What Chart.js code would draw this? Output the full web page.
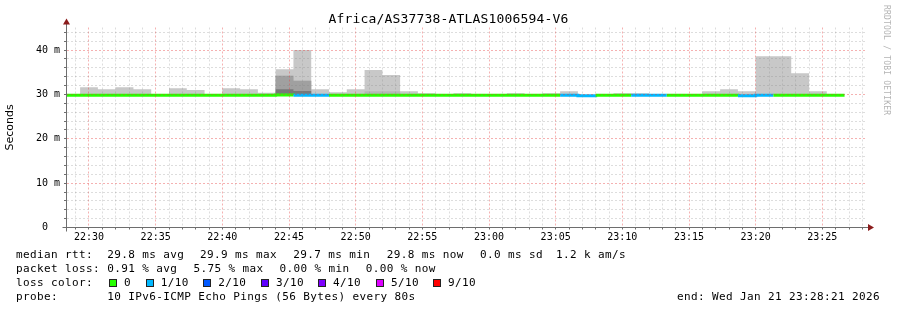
<!DOCTYPE html>
<html>
<head>
<meta charset="utf-8">
<script src="https://cdn.jsdelivr.net/npm/chart.js@4.4.1/dist/chart.umd.min.js"></script>
<style>
  body { margin: 0; background: #fff; }
  #wrap { position: relative; width: 897px; height: 310px; overflow: hidden; }
  #c { position: absolute; left: 0; top: 0; }
  .t { position: absolute; font-family: "DejaVu Sans Mono", monospace; white-space: pre; color: #000; }
  #title { left: 0; width: 897px; top: 11px; text-align: center; font-size: 13px; letter-spacing: 0.17px; line-height: 16px; }
  .leg { font-size: 11px; letter-spacing: 0.38px; line-height: 14px; }
  .box { position: absolute; width: 6px; height: 6px; border: 1px solid #222; }
  #mark { left: 882px; top: 5px; font-size: 8px; letter-spacing: 0.2px; color: #b4b4b4; writing-mode: vertical-rl; line-height: 9px; }
</style>
</head>
<body>
<div id="wrap">
  <canvas id="c" width="897" height="310"></canvas>
  <div class="t" id="title">Africa/AS37738-ATLAS1006594-V6</div>
  <div class="t" id="mark">RRDTOOL / TOBI OETIKER</div>
  <div id="legend"></div>
</div>
<script>
// 80 s steps (start time of each step), last entry is the end of the last step
const stepTimes = [
  '22:28:00','22:29:20','22:30:40','22:32:00','22:33:20','22:34:40','22:36:00','22:37:20','22:38:40',
  '22:40:00','22:41:20','22:42:40','22:44:00','22:45:20','22:46:40','22:48:00','22:49:20','22:50:40',
  '22:52:00','22:53:20','22:54:40','22:56:00','22:57:20','22:58:40','23:00:00','23:01:20','23:02:40',
  '23:04:00','23:05:20','23:06:40','23:08:00','23:09:20','23:10:40','23:12:00','23:13:20','23:14:40',
  '23:16:00','23:17:20','23:18:40','23:20:00','23:21:20','23:22:40','23:24:00','23:25:20'
];
const stepEnd = '23:26:40';
const viewStart = '22:28:21';
const viewEnd = '23:28:21';

// median rtt (ms) per step
const medianRtt = [
  29.8, 29.8, 29.8, 29.8, 29.8, 29.8, 29.8, 29.8, 29.8, 29.8, 29.8,
  29.8, 29.9, 29.8, 29.8, 29.8, 29.8, 29.8, 29.8, 29.8, 29.8, 29.8,
  29.8, 29.8, 29.8, 29.8, 29.8, 29.8, 29.8, 29.7, 29.8, 29.8, 29.8,
  29.8, 29.8, 29.8, 29.8, 29.8, 29.7, 29.8, 29.8, 29.8, 29.8, 29.8
];
// lost pings out of 10 per step
const lossCount = [
  0, 0, 0, 0, 0, 0, 0, 0, 0, 0, 0,
  0, 0, 1, 1, 0, 0, 0, 0, 0, 0, 0,
  0, 0, 0, 0, 0, 0, 1, 1, 0, 0, 1,
  1, 0, 0, 0, 0, 1, 1, 0, 0, 0, 0
];
// smoke: top of each shade band (ms), lightest first
const smokeMax = [
  29.8, 31.65, 31.2, 31.65, 31.2, 29.8, 31.4, 31.0, 29.8, 31.4, 31.2,
  30.4, 35.7, 40.0, 31.2, 30.5, 31.2, 35.5, 34.4, 30.7, 30.3, 29.8,
  30.3, 29.8, 29.8, 30.3, 29.8, 30.3, 30.7, 29.8, 29.8, 30.3, 30.3,
  29.8, 29.8, 29.8, 30.7, 31.2, 30.7, 38.6, 38.6, 34.8, 30.7, 29.8
];
const smokeUpper = [
  29.8, 29.8, 29.8, 29.8, 29.8, 29.8, 29.8, 29.8, 29.8, 29.8, 29.8,
  29.8, 34.2, 33.1, 29.8, 29.8, 29.8, 30.7, 30.7, 29.8, 29.8, 29.8,
  29.8, 29.8, 29.8, 29.8, 29.8, 29.8, 29.8, 29.8, 29.8, 29.8, 29.8,
  29.8, 29.8, 29.8, 29.8, 29.8, 29.8, 29.8, 29.8, 29.8, 29.8, 29.8
];
const smokeMid = [
  29.8, 29.8, 29.8, 29.8, 29.8, 29.8, 29.8, 29.8, 29.8, 29.8, 29.8,
  29.8, 34.2, 33.1, 29.8, 29.8, 29.8, 29.8, 29.8, 29.8, 29.8, 29.8,
  29.8, 29.8, 29.8, 29.8, 29.8, 29.8, 29.8, 29.8, 29.8, 29.8, 29.8,
  29.8, 29.8, 29.8, 29.8, 29.8, 29.8, 29.8, 29.8, 29.8, 29.8, 29.8
];
const smokeCore = [
  29.8, 29.8, 29.8, 29.8, 29.8, 29.8, 29.8, 29.8, 29.8, 29.8, 29.8,
  29.8, 31.2, 30.8, 29.8, 29.8, 29.8, 29.8, 29.8, 29.8, 29.8, 29.8,
  29.8, 29.8, 29.8, 29.8, 29.8, 29.8, 29.8, 29.8, 29.8, 29.8, 29.8,
  29.8, 29.8, 29.8, 29.8, 29.8, 29.8, 29.8, 29.8, 29.8, 29.8, 29.8
];

const xTickLabels = ['22:30','22:35','22:40','22:45','22:50','22:55','23:00','23:05','23:10','23:15','23:20','23:25'];
const yTickValues = [0, 10, 20, 30, 40];
const yTickLabels = ['0', '10 m', '20 m', '30 m', '40 m'];
const yMax = 45.1;

const lossLabels = ['0', '1/10', '2/10', '3/10', '4/10', '5/10', '9/10'];
const lossColors = ['#26ff00', '#00b8ff', '#0059ff', '#5e00ff', '#7e00ff', '#dd00ff', '#ff0000'];
// which legend colour is used for n lost pings
const lossColorFor = n => n === 0 ? lossColors[0] : n <= 5 ? lossColors[n] : lossColors[6];

// minutes after 22:00
function toMin(s) {
  const p = s.split(':').map(Number);
  return (p[0] - 22) * 60 + p[1] + (p[2] || 0) / 60;
}
const xs = stepTimes.map(toMin);
const xEnd = toMin(stepEnd);
function pts(arr) {
  return arr.map((v, i) => ({ x: xs[i], y: v })).concat([{ x: xEnd, y: arr[arr.length - 1] }]);
}

const xMajor = xTickLabels.map(l => toMin(l));
const minuteTicks = [];
for (let m = Math.ceil(toMin(viewStart)); m <= toMin(viewEnd); m++) minuteTicks.push(m);
const yGridTicks = [];
for (let v = 0; v <= yMax; v += 2) yGridTicks.push(v);

const redGrid = 'rgba(230,60,60,0.4)';
const grayGrid = 'rgba(128,128,128,0.27)';

function smokeSet(arr, color, order) {
  return { data: pts(arr), stepped: true, fill: 0, backgroundColor: color, borderWidth: 0, pointRadius: 0, order: order, clip: 0 };
}

// axis lines with arrows like rrdtool
const axisArrows = {
  id: 'axisArrows',
  afterDraw(chart) {
    const { ctx, chartArea: a } = chart;
    const x0 = a.left - 0.5, y0 = Math.round(a.bottom) - 0.5;
    ctx.save();
    ctx.strokeStyle = '#6e6e6e';
    ctx.lineWidth = 1;
    ctx.beginPath();
    ctx.moveTo(x0, y0 + 4); ctx.lineTo(x0, a.top - 5);
    ctx.moveTo(x0 - 4, y0); ctx.lineTo(a.right + 2, y0);
    ctx.stroke();
    ctx.fillStyle = '#8b1c1c';
    ctx.beginPath();
    ctx.moveTo(x0 - 3.5, a.top - 3); ctx.lineTo(x0 + 3.5, a.top - 3); ctx.lineTo(x0, a.top - 9);
    ctx.closePath(); ctx.fill();
    ctx.beginPath();
    ctx.moveTo(a.right + 1, y0 - 3.5); ctx.lineTo(a.right + 1, y0 + 3.5); ctx.lineTo(a.right + 7, y0);
    ctx.closePath(); ctx.fill();
    ctx.restore();
  }
};

new Chart(document.getElementById('c'), {
  type: 'line',
  data: {
    datasets: [
      { data: pts(medianRtt), stepped: true, borderWidth: 0, pointRadius: 0, fill: false, order: 20, clip: 0 },
      smokeSet(smokeMax, '#c8c8c8', 9),
      smokeSet(smokeUpper, '#b6b6b6', 8),
      smokeSet(smokeMid, '#a0a0a0', 7),
      smokeSet(smokeCore, '#787878', 6),
      {
        data: pts(medianRtt), stepped: true, borderWidth: 3, pointRadius: 0, fill: false, order: 1, clip: 0,
        borderColor: lossColors[0],
        segment: { borderColor: c => lossColorFor(lossCount[c.p0DataIndex] || 0) }
      }
    ]
  },
  options: {
    responsive: false,
    devicePixelRatio: 1,
    animation: false,
    events: [],
    layout: { padding: { left: 0, top: 27.5, right: 30, bottom: 62.5 } },
    plugins: { legend: { display: false }, tooltip: { enabled: false } },
    scales: {
      x: {
        type: 'linear',
        min: toMin(viewStart),
        max: toMin(viewEnd),
        afterBuildTicks: s => { s.ticks = minuteTicks.map(v => ({ value: v })); },
        afterFit: s => { s.height = 20; },
        ticks: {
          autoSkip: false, maxRotation: 0, padding: 2, color: '#000',
          font: { family: 'DejaVu Sans Mono', size: 10 },
          callback: v => { const i = xMajor.indexOf(v); return i >= 0 ? xTickLabels[i] : ''; }
        },
        grid: {
          z: 1, tickLength: 2, tickColor: '#6e6e6e',
          color: c => (c.tick && xMajor.includes(c.tick.value)) ? redGrid : grayGrid
        },
        border: { display: false, dash: [2, 2] }
      },
      y: {
        min: 0,
        max: yMax,
        afterBuildTicks: s => { s.ticks = yGridTicks.map(v => ({ value: v })); },
        afterFit: s => { s.width = 67; },
        title: { display: true, text: 'Seconds', color: '#000', font: { family: 'DejaVu Sans', size: 11 } },
        ticks: {
          autoSkip: false, padding: 4, color: '#000',
          font: { family: 'DejaVu Sans Mono', size: 10 },
          callback: v => { const i = yTickValues.indexOf(v); return i < 0 ? '' : (v === 0 ? yTickLabels[i].padEnd(3) : yTickLabels[i]); }
        },
        grid: {
          z: 1, tickLength: 3, tickColor: '#6e6e6e',
          color: c => (c.tick && yTickValues.includes(c.tick.value)) ? redGrid : grayGrid
        },
        border: { display: false, dash: [2, 2] }
      }
    }
  },
  plugins: [axisArrows]
});

// legend text under the plot
const legendLines = [
  { top: 248, items: [[16, 'median rtt:'], [107.3, '29.8 ms avg'], [200, '29.9 ms max'], [293.3, '29.7 ms min'], [386.7, '29.8 ms now'], [480, '0.0 ms sd'], [556, '1.2 k am/s']] },
  { top: 262, items: [[16, 'packet loss:'], [107.3, '0.91 % avg'], [193.6, '5.75 % max'], [279.5, '0.00 % min'], [365.7, '0.00 % now']] },
  { top: 276, items: [[16, 'loss color:']] },
  { top: 290, items: [[16, 'probe:'], [107.3, '10 IPv6-ICMP Echo Pings (56 Bytes) every 80s']] }
];
const legendEl = document.getElementById('legend');
legendLines.forEach(line => {
  line.items.forEach(([x, txt]) => {
    const d = document.createElement('div');
    d.className = 't leg';
    d.style.left = x + 'px';
    d.style.top = line.top + 'px';
    d.textContent = txt;
    legendEl.appendChild(d);
  });
});
const boxX = [109, 145.7, 203.3, 261, 318, 376, 433];
lossLabels.forEach((lbl, i) => {
  const b = document.createElement('div');
  b.className = 'box';
  b.style.left = boxX[i] + 'px';
  b.style.top = '279px';
  b.style.background = lossColors[i];
  legendEl.appendChild(b);
  const d = document.createElement('div');
  d.className = 't leg';
  d.style.left = (boxX[i] + 15) + 'px';
  d.style.top = '276px';
  d.textContent = lbl;
  legendEl.appendChild(d);
});
const endEl = document.createElement('div');
endEl.className = 't leg';
endEl.style.right = (897 - 880) + 'px';
endEl.style.top = '290px';
endEl.textContent = 'end: Wed Jan 21 23:28:21 2026';
legendEl.appendChild(endEl);
</script>
</body>
</html>
